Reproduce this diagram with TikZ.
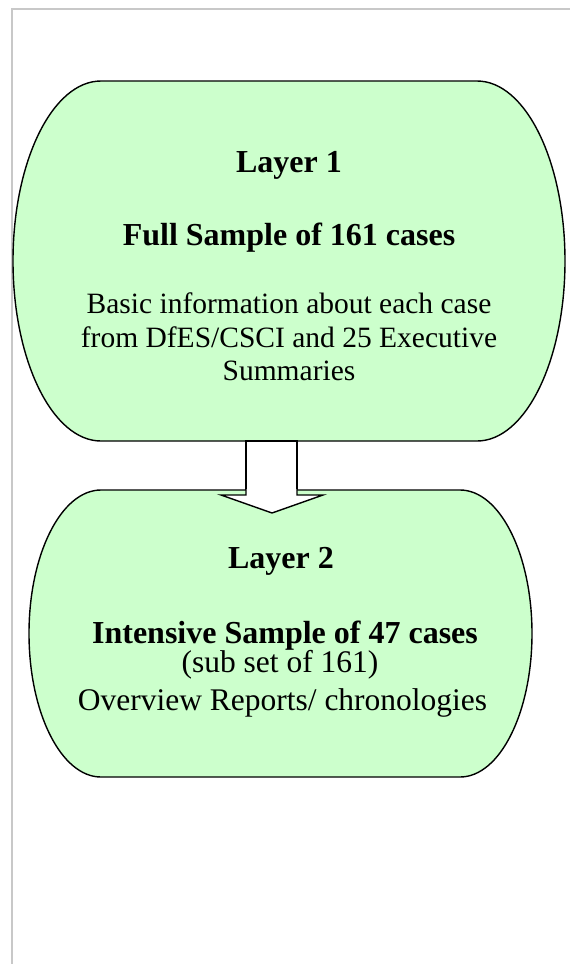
\documentclass[tikz,border=0pt]{standalone}
\usepackage{fontspec}
\setmainfont{Liberation Serif}
\definecolor{boxgreen}{HTML}{CCFFCC}
\definecolor{frame}{HTML}{C8C8C8}
\tikzset{
  lay/.style={draw=black, fill=boxgreen, line width=1.4pt},
  blk/.style={draw=black, fill=white, line width=1.4pt, line join=miter},
  bold/.style={anchor=base, inner sep=0pt, font=\fontsize{32}{36}\selectfont\bfseries},
  reg/.style={anchor=base, inner sep=0pt, font=\fontsize{29.5}{34}\selectfont},
  regb/.style={anchor=base, inner sep=0pt, font=\fontsize{31.5}{36}\selectfont},
}
\begin{document}
\begin{tikzpicture}[x=1pt,y=1pt]
\useasboundingbox (0,0) rectangle (570,-964);
% page frame
\draw[frame, line width=2pt] (11.5,-964) -- (11.5,-8.5) -- (570,-8.5);
% layer 1 shape
\draw[lay] (101,-81) -- (477,-81)
  arc[start angle=90, end angle=0, x radius=88, y radius=180]
  arc[start angle=0, end angle=-90, x radius=88, y radius=180]
  -- (101,-441)
  arc[start angle=270, end angle=180, x radius=88, y radius=180]
  arc[start angle=180, end angle=90, x radius=88, y radius=180] -- cycle;
% arrow shaft
\coordinate (s1) at (246,-441);
\coordinate (s2) at (297,-495);
\draw[blk] (s1) rectangle (s2);
% layer 2 shape
\draw[lay] (101,-490) -- (460,-490)
  arc[start angle=90, end angle=0, x radius=72, y radius=143.5]
  arc[start angle=0, end angle=-90, x radius=72, y radius=143.5]
  -- (101,-777)
  arc[start angle=270, end angle=180, x radius=72, y radius=143.5]
  arc[start angle=180, end angle=90, x radius=72, y radius=143.5] -- cycle;
% arrow head
\coordinate (h1) at (221,-495);
\coordinate (h2) at (323,-495);
\coordinate (h3) at (272,-513);
\coordinate (a1) at (246,-489);
\coordinate (a2) at (297,-489);
\fill[white] (h1) -- (a1 |- h1) -- (a1) -- (a2) -- (a2 |- h2) -- (h2) -- (h3) -- cycle;
\draw[blk, fill=none] (a1) -- (a1 |- h1) -- (h1) -- (h3) -- (h2) -- (a2 |- h2) -- (a2);
% texts layer 1
\node[bold] (t1) at (289,-172) {Layer 1};
\node[bold] (t2) at (289,-245) {Full Sample of 161 cases};
\node[reg] (t3) at (289,-313) {Basic information about each case};
\node[reg] (t4) at (289,-347) {from DfES/CSCI and 25 Executive};
\node[reg] (t5) at (289,-380) {Summaries};
% texts layer 2
\node[bold] (u1) at (281,-568) {Layer 2};
\node[bold] (u2) at (285,-643) {Intensive Sample of 47 cases};
\node[regb] (u3) at (280,-672) {(sub set of 161)};
\node[regb] (u4) at (282.5,-710) {Overview Reports/ chronologies};
\end{tikzpicture}
\end{document}
